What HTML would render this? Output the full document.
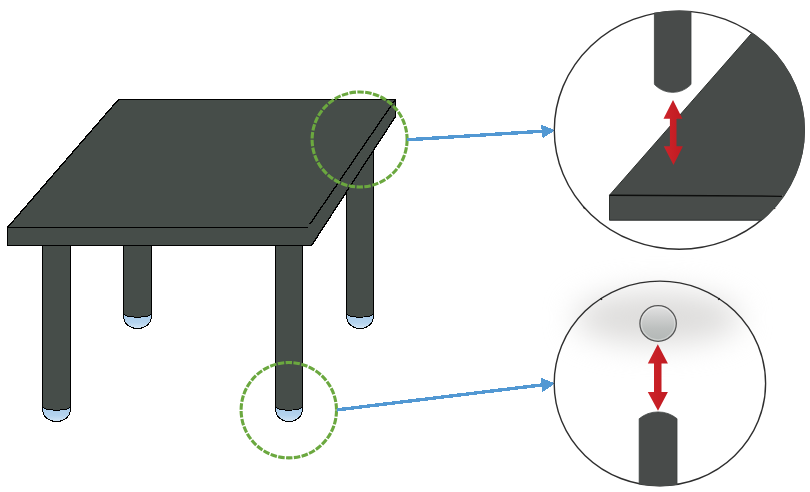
<!DOCTYPE html>
<html lang="en">
<head>
<meta charset="utf-8">
<title>Table leg and glide detail diagram</title>
<style>
  html, body { margin: 0; padding: 0; background: #ffffff; }
  body { width: 810px; height: 492px; overflow: hidden; font-family: "Liberation Sans", sans-serif; }
  svg { display: block; }
</style>
</head>
<body>
<svg width="810" height="492" viewBox="0 0 810 492" role="img" aria-label="Table with detail views of the corner and the leg glide">
  <defs>
    <linearGradient id="glide" x1="0" y1="0" x2="0" y2="1">
      <stop offset="0" stop-color="#a9cbea"/>
      <stop offset="0.6" stop-color="#b4d3ee"/>
      <stop offset="1" stop-color="#d3e6f6"/>
    </linearGradient>
    <linearGradient id="ball" x1="0" y1="0" x2="0" y2="1">
      <stop offset="0" stop-color="#e3e3e3"/>
      <stop offset="0.3" stop-color="#d0d1d1"/>
      <stop offset="0.65" stop-color="#bcbfbe"/>
      <stop offset="1" stop-color="#b3b8b6"/>
    </linearGradient>
    <filter id="soft" x="-60%" y="-200%" width="220%" height="500%" color-interpolation-filters="sRGB">
      <feGaussianBlur stdDeviation="15"/>
    </filter>
    <linearGradient id="red" x1="0" y1="0" x2="1" y2="0">
      <stop offset="0" stop-color="#cd242a"/>
      <stop offset="1" stop-color="#c01a21"/>
    </linearGradient>
    <clipPath id="clipTop"><ellipse cx="679.3" cy="130.2" rx="125.6" ry="119.7"/></clipPath>
    <clipPath id="clipBot"><ellipse cx="659.9" cy="383.4" rx="106.3" ry="102.9"/></clipPath>
  </defs>

  <rect x="0" y="0" width="810" height="492" fill="#ffffff"/>

  <!-- ===== table legs ===== -->
  <g id="legs" stroke="#000" stroke-width="1" shape-rendering="crispEdges">
    <!-- back left -->
    <path d="M123.5,313.5 V316.5 C123.9,323.0 129.0,328.5 137.5,328.5 C146.0,328.5 151.1,323.0 151.5,316.5 V313.5 Z" fill="url(#glide)"/>
    <path d="M123.5,240 V313.5 A14.0,3.7 0 0 0 151.5,313.5 V240" fill="#464d49"/>
    <!-- back right -->
    <path d="M346.5,313.5 V316.5 C346.9,323.0 352.0,328.5 360.0,328.5 C368.0,328.5 373.1,323.0 373.5,316.5 V313.5 Z" fill="url(#glide)"/>
    <path d="M346.5,150 V313.5 A13.5,3.7 0 0 0 373.5,313.5 V150" fill="#464d49"/>
    <!-- front left -->
    <path d="M42.5,406.5 V409.5 C42.9,416.0 48.0,421.5 56.5,421.5 C65.0,421.5 70.1,416.0 70.5,409.5 V406.5 Z" fill="url(#glide)"/>
    <path d="M42.5,240 V406.5 A14.0,3.7 0 0 0 70.5,406.5 V240" fill="#464d49"/>
    <!-- front right -->
    <path d="M275.5,406.5 V409.5 C275.9,416.0 281.0,421.5 289.0,421.5 C297.0,421.5 302.1,416.0 302.5,409.5 V406.5 Z" fill="url(#glide)"/>
    <path d="M275.5,240 V406.5 A13.5,3.7 0 0 0 302.5,406.5 V240" fill="#464d49"/>
  </g>

  <!-- ===== table top ===== -->
  <g id="tabletop" shape-rendering="crispEdges">
    <path d="M7.5,227.5 L118.5,99.5 H395.5 V116.5 L311.5,245.5 H7.5 Z" fill="#464d49" stroke="#000" stroke-width="1.35" stroke-linejoin="miter"/>
    <path d="M7.5,227.5 H308" fill="none" stroke="#000" stroke-width="1"/>
    <path d="M310,224 L395,100" fill="none" stroke="#000" stroke-width="1.35"/>
  </g>

  <!-- ===== green dashed callout circles ===== -->
  <g fill="none" stroke="#6ba83f" stroke-width="3.1" stroke-dasharray="6.5 1.4">
    <circle cx="359.6" cy="139.5" r="47.5"/>
    <circle cx="288.8" cy="410.2" r="47.7"/>
  </g>

  <!-- ===== blue arrows ===== -->
  <g id="arrows" fill="#5298d3" stroke="none" shape-rendering="crispEdges">
    <path d="M407,139.8 L543,131.2" stroke="#5298d3" stroke-width="3.4" fill="none"/>
    <path d="M555,130.3 L541,124.7 L542.6,138.2 Z"/>
    <path d="M336.8,409.9 L543,384.8" stroke="#5298d3" stroke-width="3.4" fill="none"/>
    <path d="M555.2,383.3 L541,377.9 L542.5,392.2 Z"/>
  </g>

  <!-- ===== top detail circle ===== -->
  <g id="detailTop">
    <ellipse cx="679.3" cy="130.2" rx="125" ry="119.1" fill="#ffffff" stroke="#2e2e2e" stroke-width="1.4"/>
    <path d="M583.2,207.2 l1.8,1.6 M773.6,207.6 l1.6,1.2" stroke="#2e2e2e" stroke-width="1.2" fill="none"/>
    <g clip-path="url(#clipTop)">
      <!-- leg seen from above the corner -->
      <path d="M654.4,0 V83.6 Q654.5,85 655.6,85.6 A25,25 0 0 0 689.8,85.6 Q690.9,85 691,83.6 V0 Z" fill="#484b4a" stroke="#3a3d3c" stroke-width="0.8"/>
      <!-- table top face -->
      <path d="M751,34 L609.5,195.2 H820 V0 H780 Z" fill="#474b49"/>
      <!-- front face -->
      <path d="M609.5,195.2 H820 V220.2 H609.5 Z" fill="#484c4a"/>
      <path d="M751,34 L609.5,195.2 V220.2 H770" stroke="#2c2f2d" stroke-width="1" fill="none" stroke-linejoin="round"/>
      <path d="M609.5,195.2 L782,196.2" stroke="#0d0e0d" stroke-width="1.5" fill="none"/>
    </g>
    <!-- red double arrow -->
    <path d="M673,100 L682.4,118.8 H676.5 V146.2 H682.9 L673.5,165.1 L663.8,146.2 H669.9 V118.8 H663.5 Z" fill="url(#red)"/>
  </g>

  <!-- ===== bottom detail circle ===== -->
  <g id="detailBottom">
    <ellipse cx="657.5" cy="318" rx="83" ry="26" fill="#dddcdb" filter="url(#soft)"/>
    <ellipse cx="659.9" cy="383.4" rx="105.7" ry="102.3" fill="none" stroke="#2e2e2e" stroke-width="1.4"/>
    <path d="M600.6,298.2 l1.3,1.5 M718.2,299.6 l1.5,-1.3" stroke="#1c1c1c" stroke-width="1.6" fill="none"/>
    <g clip-path="url(#clipBot)">
      <path d="M639.2,492 V418.7 A29.8,29.8 0 0 1 677,418.7 V492 Z" fill="#484b4a" stroke="#3a3d3c" stroke-width="0.8"/>
    </g>
    <ellipse cx="658.1" cy="323.5" rx="18.2" ry="17.8" fill="url(#ball)" stroke="#565656" stroke-width="1.3"/>
    <ellipse cx="658.1" cy="323.5" rx="16.8" ry="16.4" fill="none" stroke="#ffffff" stroke-opacity="0.3" stroke-width="1.4"/>
    <path d="M657.8,344.3 L667.9,363.6 H661.5 V392.1 H667.9 L658,410.8 L647.8,392.1 H654 V363.6 H647.8 Z" fill="url(#red)"/>
  </g>
</svg>
</body>
</html>
